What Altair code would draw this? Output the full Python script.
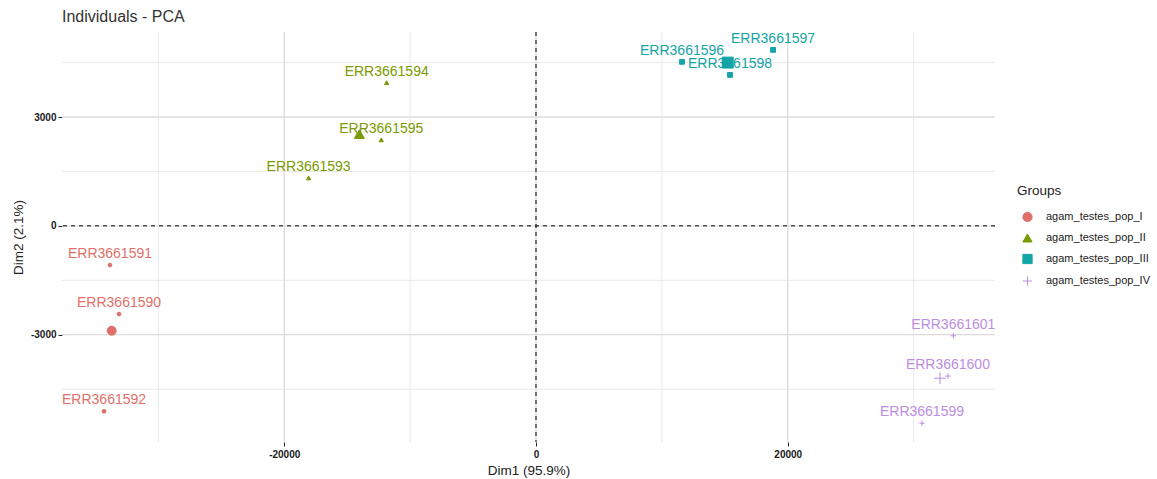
import altair as alt
import pandas as pd

# Individuals on the first two principal components
samples = [
    "ERR3661590", "ERR3661591", "ERR3661592",
    "ERR3661593", "ERR3661594", "ERR3661595",
    "ERR3661596", "ERR3661597", "ERR3661598",
    "ERR3661599", "ERR3661600", "ERR3661601",
]
sample_groups = [
    "agam_testes_pop_I", "agam_testes_pop_I", "agam_testes_pop_I",
    "agam_testes_pop_II", "agam_testes_pop_II", "agam_testes_pop_II",
    "agam_testes_pop_III", "agam_testes_pop_III", "agam_testes_pop_III",
    "agam_testes_pop_IV", "agam_testes_pop_IV", "agam_testes_pop_IV",
]
dim1 = [-33120, -33840, -34310, -18060, -11860, -12290,
        11600, 18830, 15410, 30660, 32720, 33150]
dim2 = [-2430, -1080, -5110, 1320, 3945, 2370,
        4520, 4850, 4160, -5440, -4140, -3030]

# Group centroids (mean points)
groups = ["agam_testes_pop_I", "agam_testes_pop_II",
          "agam_testes_pop_III", "agam_testes_pop_IV"]
centroid_dim1 = [-33700, -14030, 15230, 32090]
centroid_dim2 = [-2890, 2530, 4500, -4200]

# Axis ticks and grid positions
x_major = [-20000, 0, 20000]
x_minor = [-30000, -10000, 10000, 30000]
y_major = [-3000, 0, 3000]
y_minor = [-4500, -1500, 1500, 4500]
x_domain = [-37650, 36460]
y_domain = [-5957, 5343]

palette = ["#DF6F69", "#7A9A01", "#13A4A7", "#BC8DE3"]
plus_path = "M-1,0L1,0M0,-1L0,1"
shapes = ["circle", "triangle-up", "square", plus_path]
FONT = "Liberation Sans"

ind = pd.DataFrame({"name": samples, "group": sample_groups, "Dim1": dim1, "Dim2": dim2})
cen = pd.DataFrame({"group": groups, "Dim1": centroid_dim1, "Dim2": centroid_dim2})

xs = alt.Scale(domain=x_domain, nice=False, zero=False)
ys = alt.Scale(domain=y_domain, nice=False, zero=False)
col_scale = alt.Scale(domain=groups, range=palette)
shape_scale = alt.Scale(domain=groups, range=shapes)

x_axis = alt.Axis(values=x_major, grid=False, domain=False, ticks=True, tickSize=4,
                  tickColor="#222", labelExpr="toString(datum.value)",
                  labelFontSize=10, labelColor="#1a1a1a", labelFontWeight="bold",
                  labelPadding=3, title="Dim1 (95.9%)", titleFontSize=13.5,
                  titleFontWeight="normal", titleColor="#222", titlePadding=4)
y_axis = alt.Axis(values=y_major, grid=False, domain=False, ticks=True, tickSize=4,
                  tickColor="#222", labelExpr="toString(datum.value)",
                  labelFontSize=10, labelColor="#1a1a1a", labelFontWeight="bold",
                  labelPadding=2, title="Dim2 (2.1%)", titleFontSize=13.5,
                  titleFontWeight="normal", titleColor="#222", titlePadding=5)

# Panel grid
major_v = alt.Chart(pd.DataFrame({"v": x_major})).mark_rule(color="#DCDCDC", strokeWidth=1.3).encode(
    x=alt.X("v:Q", scale=xs, axis=x_axis))
minor_v = alt.Chart(pd.DataFrame({"v": x_minor})).mark_rule(color="#E8E8E8", strokeWidth=1).encode(
    x=alt.X("v:Q", scale=xs))
major_h = alt.Chart(pd.DataFrame({"v": y_major})).mark_rule(color="#DCDCDC", strokeWidth=1.3).encode(
    y=alt.Y("v:Q", scale=ys, axis=y_axis))
minor_h = alt.Chart(pd.DataFrame({"v": y_minor})).mark_rule(color="#E8E8E8", strokeWidth=1).encode(
    y=alt.Y("v:Q", scale=ys))

# Dashed reference lines through the origin
zero_v = alt.Chart(pd.DataFrame({"v": [0]})).mark_rule(color="black", strokeDash=[4, 4], strokeWidth=1).encode(
    x=alt.X("v:Q", scale=xs))
zero_h = alt.Chart(pd.DataFrame({"v": [0]})).mark_rule(color="black", strokeDash=[4, 4], strokeWidth=1).encode(
    y=alt.Y("v:Q", scale=ys))

legend = alt.Legend(title="Groups", orient="none", legendX=955, legendY=152,
                    titleFontSize=13.5, titleFontWeight="normal", titleColor="#222",
                    labelFontSize=11, labelColor="#222", symbolSize=85,
                    symbolStrokeWidth=1, titlePadding=14, rowPadding=7,
                    labelOffset=13, symbolOffset=5, padding=0)

point_enc = dict(
    x=alt.X("Dim1:Q", scale=xs),
    y=alt.Y("Dim2:Q", scale=ys),
    color=alt.Color("group:N", scale=col_scale, legend=legend),
    stroke=alt.Stroke("group:N", scale=col_scale, legend=legend),
    shape=alt.Shape("group:N", scale=shape_scale, legend=legend),
)

points = alt.Chart(ind).mark_point(filled=True, opacity=1, strokeWidth=1).encode(
    size=alt.Size("group:N", scale=alt.Scale(domain=groups, range=[14, 28, 18, 60]), legend=None),
    **point_enc)

labels = alt.Chart(ind).mark_text(fontSize=14, font=FONT, dy=-7, baseline="alphabetic").encode(
    x=alt.X("Dim1:Q", scale=xs),
    y=alt.Y("Dim2:Q", scale=ys),
    text="name:N",
    color=alt.Color("group:N", scale=col_scale, legend=None),
)

centroids = alt.Chart(cen).mark_point(filled=True, opacity=1, strokeWidth=1).encode(
    size=alt.Size("group:N", scale=alt.Scale(domain=groups, range=[80, 140, 80, 160]), legend=None),
    **point_enc)

chart = alt.layer(
    minor_v, minor_h, major_v, major_h, zero_v, zero_h, points, labels, centroids
).resolve_scale(size="independent").properties(
    width=933, height=410,
    title=alt.TitleParams("Individuals - PCA", anchor="start", frame="group", fontSize=16,
                          fontWeight="normal", color="#333", font=FONT,
                          baseline="alphabetic", offset=10, dy=17),
    padding={"left": 62, "top": 32, "right": 162, "bottom": 37},
    autosize="none",
).configure(font=FONT, background="white").configure_view(stroke=None)

chart.save("out.html", embed_options={"renderer": "svg", "actions": False})
